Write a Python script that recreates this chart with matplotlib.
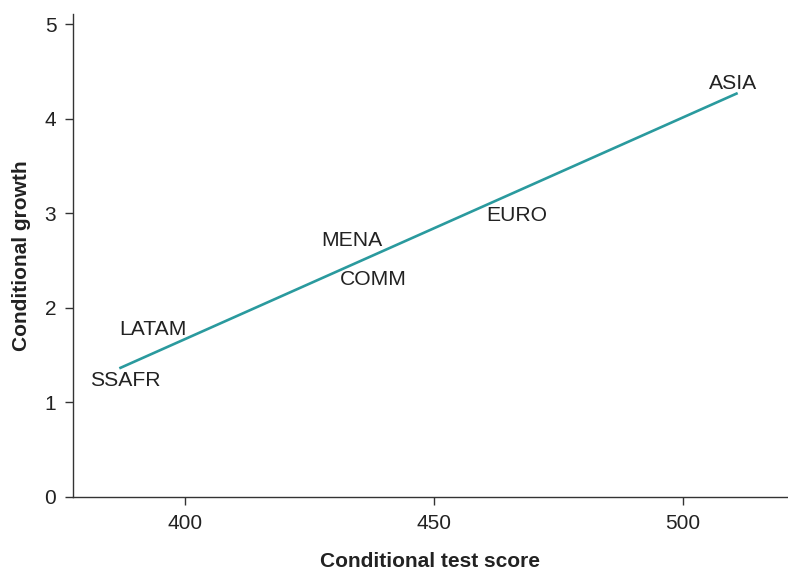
import matplotlib
matplotlib.use('Agg')
import matplotlib.pyplot as plt

# regiones y posiciones de etiqueta
regions = ['ASIA', 'EURO', 'MENA', 'COMM', 'LATAM', 'SSAFR']
score = [510.1, 466.7, 433.5, 437.9, 393.7, 388.1]
growth = [4.37, 2.98, 2.71, 2.30, 1.77, 1.23]

# recta ajustada
fit_x = [386.9, 511.0]
fit_y = [1.36, 4.27]

xticks = [400, 450, 500]
yticks = [0, 1, 2, 3, 4, 5]

plt.rcParams['font.family'] = ['Liberation Sans', 'DejaVu Sans']
txt = '#222222'

fig = plt.figure(figsize=(7.88, 5.71), dpi=100)
ax = fig.add_axes([0.0926, 0.1296, 0.9074, 0.8459])

ax.plot(fit_x, fit_y, color='#2a9a9e', lw=1.9, solid_capstyle='butt')
for r, x, y in zip(regions, score, growth):
    ax.text(x, y, r, ha='center', va='center', fontsize=15.2, color=txt)

ax.set_xlim(377.6, 521.1)
ax.set_ylim(0, 5.106)
ax.set_xticks(xticks)
ax.set_yticks(yticks)
ax.tick_params(direction='out', length=6, width=1, colors='#333333',
               labelsize=15, labelcolor=txt, pad=6)
for s in ['top', 'right']:
    ax.spines[s].set_visible(False)
for s in ['left', 'bottom']:
    ax.spines[s].set_color('#333333')
    ax.spines[s].set_linewidth(1)

ax.set_xlabel('Conditional test score', fontsize=15, fontweight='bold',
              color=txt, labelpad=14)
ax.set_ylabel('Conditional growth', fontsize=15, fontweight='bold',
              color=txt, labelpad=10)

fig.savefig('out.png', dpi=100)
